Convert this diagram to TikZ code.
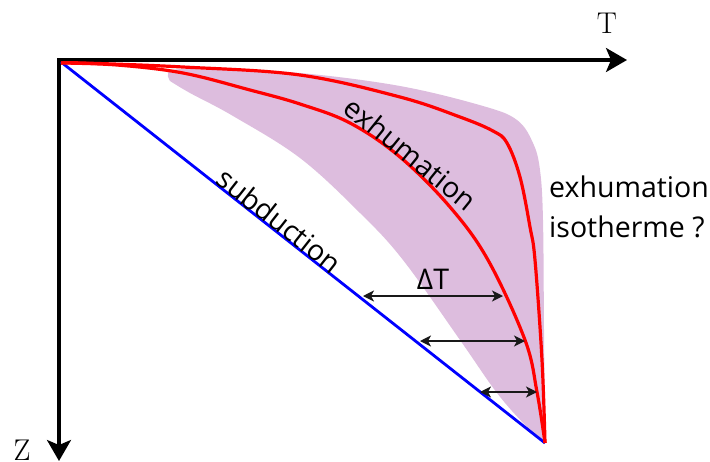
\documentclass[tikz,border=0pt]{standalone}
\usepackage{fontspec}
\newfontfamily\labelfont{Open Sans}
\usetikzlibrary{arrows.meta}
\definecolor{zonefill}{RGB}{221,189,222}
\definecolor{pathred}{RGB}{255,0,0}
\definecolor{pathblue}{RGB}{0,0,255}
\begin{document}
\begin{tikzpicture}[x=1pt,y=-1pt,
  axisline/.style={line width=3.2pt, line join=miter,
    {Stealth[length=21pt,width=24pt,inset=5pt]}-{Stealth[length=21pt,width=24pt,inset=5pt]}},
  axislabel/.style={inner sep=0pt, font=\fontsize{30}{30}\selectfont},
  subline/.style={line width=2.8pt, draw=pathblue},
  exhline/.style={line width=3.2pt, draw=pathred},
  dtarrow/.style={line width=1.4pt, draw=black!90,
    {Stealth[length=11pt,width=11pt,inset=3pt]}-{Stealth[length=11pt,width=11pt,inset=3pt]}},
  wordlabel/.style={inner sep=0pt, font=\labelfont\fontsize{28.5}{39.5}\selectfont}
]
\useasboundingbox (0,0) rectangle (710,461);

% shaded zone
\fill[zonefill] plot[smooth, tension=0.6] coordinates {(170,81) (172,70) (220,70) (300,73) (400,86) (483,106) (517,120) (533,143) (540,170) (543,220) (544,330) (545,443)}
  -- plot[smooth, tension=0.6] coordinates {(545,443) (527,427) (497,393) (460,340) (403,260) (360,213) (300,158) (233,116) (190,93) (170,81)} -- cycle;

% axes
\coordinate (O) at (59,60);
\coordinate (Tend) at (627,60);
\coordinate (Zend) at (59,461);
\draw[axisline] (Tend) -- (O) -- (Zend);
\node[axislabel, anchor=base] (Tlab) at (607,33) {T};
\node[axislabel, anchor=base] (Zlab) at (22,460) {Z};

% subduction line
\coordinate (S0) at (61,62);
\coordinate (S1) at (545,443);
\draw[subline] (S0) -- (S1);

% exhumation curves
\draw[exhline] plot[smooth, tension=0.6] coordinates {(61,63) (117,65) (183,73) (250,90) (300,104) (350,123) (400,157) (450,207) (488,260) (525,340) (537,392) (545,443)};
\draw[exhline] plot[smooth, tension=0.6] coordinates {(61,63) (83,63) (183,67) (300,75) (400,97) (460,117) (493,131) (507,143) (520,177) (530,227) (535,260) (542,360) (545,443)};

% Delta T arrows
\coordinate (a1l) at (363,296); \coordinate (a1r) at (503,296);
\coordinate (a2l) at (420,341); \coordinate (a2r) at (525,341);
\coordinate (a3l) at (480,392); \coordinate (a3r) at (537,392);
\draw[dtarrow] (a1l) -- (a1r);
\draw[dtarrow] (a2l) -- (a2r);
\draw[dtarrow] (a3l) -- (a3r);

% labels
\node[wordlabel, anchor=base] (dT) at (433,289) {ΔT};
\node[wordlabel, anchor=base, rotate=-38.16] (sub) at (273,229) {subduction};
\node[wordlabel, anchor=base, rotate=-39] (exh) at (404,162) {exhumation};
\node[wordlabel, anchor=base west, align=left] (iso) at (549,237) {exhumation\\isotherme ?};
\end{tikzpicture}
\end{document}
